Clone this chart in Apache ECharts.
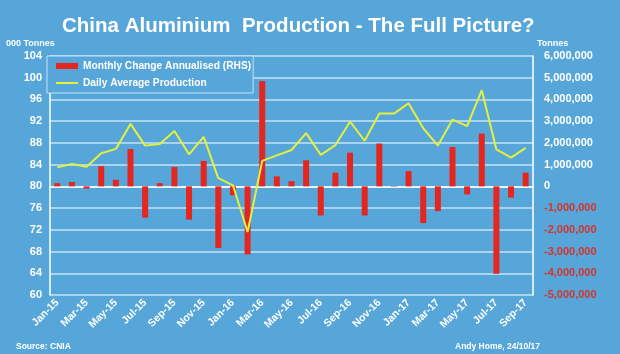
<!DOCTYPE html>
<html>
<head>
<meta charset="utf-8">
<script src="https://cdn.jsdelivr.net/npm/echarts@6/dist/echarts.min.js"></script>
<style>
  html, body { margin: 0; padding: 0; background: #57a6d9; }
  #chart { width: 620px; height: 354px; }
</style>
</head>
<body>
<div id="chart"></div>
<script>
// months Jan-15 .. Sep-17
const months = ['Jan-15','Feb-15','Mar-15','Apr-15','May-15','Jun-15','Jul-15','Aug-15','Sep-15','Oct-15','Nov-15','Dec-15',
  'Jan-16','Feb-16','Mar-16','Apr-16','May-16','Jun-16','Jul-16','Aug-16','Sep-16','Oct-16','Nov-16','Dec-16',
  'Jan-17','Feb-17','Mar-17','Apr-17','May-17','Jun-17','Jul-17','Aug-17','Sep-17']

// daily average production, 000 tonnes (LHS)
const dailyAvg = [83.5, 84.1, 83.6, 86.1, 86.9, 91.5, 87.5, 87.8, 90.2, 85.9, 89.1, 81.5,
  80.2, 71.6, 84.7, 85.7, 86.7, 89.8, 85.8, 87.6, 91.9, 88.4, 93.4, 93.4,
  95.3, 90.7, 87.5, 92.3, 91.1, 97.7, 86.8, 85.3, 87.1]

// monthly change annualised, tonnes (RHS)
const monthlyChange = [150000, 200000, -100000, 930000, 300000, 1720000, -1440000, 150000, 890000, -1530000, 1170000, -2840000,
  -410000, -3130000, 4850000, 460000, 240000, 1200000, -1340000, 630000, 1550000, -1340000, 1970000, -20000,
  700000, -1690000, -1140000, 1810000, -370000, 2430000, -4020000, -520000, 630000]

const chart = echarts.init(document.getElementById('chart'))

const white = '#ffffff'
const gridColor = '#c4e2f6'
const lineColor = '#e4f03c'

chart.setOption({
  backgroundColor: '#57a6d9',
  animation: false,
  textStyle: { fontFamily: 'Arial, Liberation Sans, sans-serif' },
  title: {
    text: 'China Aluminium  Production - The Full Picture?',
    left: 57,
    top: 11,
    textStyle: { color: white, fontSize: 20.5, fontWeight: 'bold' }
  },
  legend: {
    orient: 'vertical',
    left: 47,
    top: 56,
    padding: [5, 2, 5, 8],
    itemGap: 7,
    itemWidth: 22,
    itemHeight: 6,
    borderColor: gridColor,
    borderWidth: 1,
    backgroundColor: '#57a6d9',
    textStyle: { color: white, fontSize: 10.2, fontWeight: 'bold' },
    data: [
      { name: 'Monthly Change Annualised (RHS)', icon: 'rect' },
      { name: 'Daily Average Production', itemStyle: { color: 'transparent', opacity: 0 } }
    ]
  },
  grid: { left: 50, right: 87, top: 56, bottom: 59 },
  xAxis: {
    type: 'category',
    data: months,
    axisLine: { lineStyle: { color: white, width: 1.5 } },
    axisTick: { interval: 1, length: 4, lineStyle: { color: white } },
    axisLabel: { interval: 1, rotate: 45, color: white, fontSize: 10.5, fontWeight: 'bold', margin: 6 },
    splitLine: { show: false }
  },
  yAxis: [
    {
      type: 'value',
      min: 60,
      max: 104,
      interval: 4,
      name: '000 Tonnes',
      nameLocation: 'end',
      nameGap: 8,
      nameTextStyle: { color: white, fontSize: 9, fontWeight: 'bold', align: 'left', padding: [0, 0, 0, -44] },
      axisLine: { show: true, lineStyle: { color: white, width: 1.5 } },
      axisTick: { show: false },
      axisLabel: { color: white, fontSize: 11, fontWeight: 'bold', margin: 8 },
      splitLine: { lineStyle: { color: gridColor, width: 1.5 } }
    },
    {
      type: 'value',
      min: -5000000,
      max: 6000000,
      interval: 1000000,
      name: 'Tonnes',
      nameLocation: 'end',
      nameGap: 8,
      nameTextStyle: { color: white, fontSize: 9, fontWeight: 'bold', align: 'left', padding: [0, 0, 0, 4] },
      axisLine: { show: true, lineStyle: { color: white, width: 1.5 } },
      axisTick: { show: false },
      axisLabel: {
        fontSize: 11,
        fontWeight: 'bold',
        margin: 11,
        color: function (v) { return Number(v) < 0 ? '#d3342c' : white },
        formatter: function (v) { return v.toLocaleString('en-US') }
      },
      splitLine: { show: false }
    }
  ],
  series: [
    {
      name: 'Monthly Change Annualised (RHS)',
      type: 'bar',
      yAxisIndex: 1,
      barWidth: 6,
      itemStyle: { color: '#e5261f' },
      data: monthlyChange
    },
    {
      name: 'Daily Average Production',
      type: 'line',
      yAxisIndex: 0,
      symbol: 'none',
      lineStyle: { color: lineColor, width: 2 },
      itemStyle: { color: lineColor },
      data: dailyAvg
    }
  ],
  graphic: [
    { type: 'text', left: 16, top: 342, style: { text: 'Source: CNIA', fill: white, font: 'bold 8.5px Arial' } },
    { type: 'text', left: 455, top: 342, style: { text: 'Andy Home, 24/10/17', fill: white, font: 'bold 8.5px Arial' } }
  ]
})
</script>
</body>
</html>
